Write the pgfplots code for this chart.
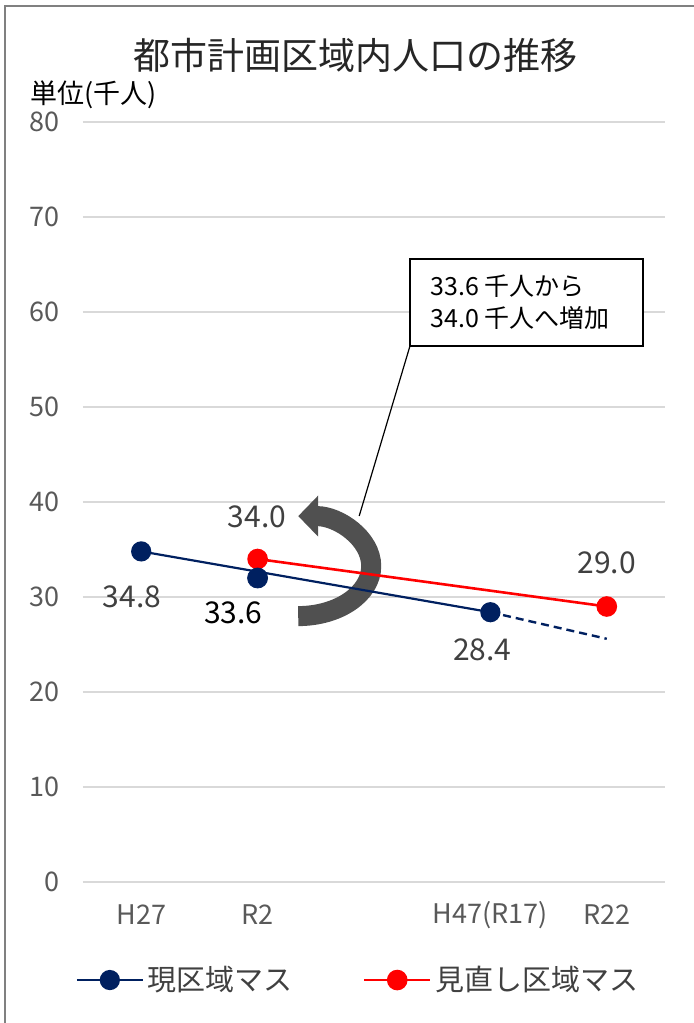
\documentclass[border=0pt]{standalone}
\usepackage{fontspec}
\setmainfont{Noto Sans CJK JP}
\usepackage{pgfplots}
\pgfplotsset{compat=1.18}
\usetikzlibrary{arrows.meta}
\definecolor{navy}{RGB}{0,32,96}
\definecolor{myred}{RGB}{255,0,0}
\definecolor{gridgray}{RGB}{217,217,217}
\definecolor{ticktext}{RGB}{89,89,89}
\definecolor{labeltext}{RGB}{64,64,64}
\definecolor{titletext}{RGB}{38,38,38}
\definecolor{arrowgray}{RGB}{80,80,80}
\definecolor{framegray}{RGB}{128,128,128}
\begin{document}
\begin{tikzpicture}
\useasboundingbox (-41.5pt,-70.5pt) rectangle (305.5pt,441pt);
\draw[framegray, line width=1.2pt] (-39pt,-70.5pt) -- (-39pt,438pt) -- (305.5pt,438pt);
\node[font=\fontsize{18.5pt}{22pt}\selectfont, text=titletext] at (136.25pt,413.5pt) {都市計画区域内人口の推移};
\node[anchor=west, font=\fontsize{13.5pt}{15pt}\selectfont, inner sep=0pt] at (-26.5pt,393.5pt) {単位(千人)};
\begin{axis}[
  at={(0pt,0pt)}, anchor=south west,
  scale only axis, width=291pt, height=380pt,
  xmin=-0.5, xmax=4.5, ymin=0, ymax=80,
  xtick={0,1,2,3,4}, xticklabels={H27,R2,{},H47(R17),R22},
  ytick={0,10,...,80},
  axis line style={draw=none},
  major tick length=0pt,
  ymajorgrids, grid style={gridgray, line width=1pt},
  tick label style={font=\fontsize{13.5pt}{16pt}\selectfont, text=ticktext},
  /pgf/number format/assume math mode=true,
  xticklabel style={anchor=center, yshift=-16.5pt},
  yticklabel style={xshift=-8pt},
  clip=false,
  legend columns=2,
  legend style={at={(0.4745,-0.129)}, anchor=center, draw=none, fill=none,
    font=\fontsize{14.5pt}{16pt}\selectfont, text=labeltext,
    /tikz/every even column/.append style={column sep=33pt}},
  legend image code/.code={
    \draw[mark repeat=2, mark phase=2, #1] plot coordinates {(0pt,0pt) (16.5pt,0pt) (33pt,0pt)};
  },
]
% curved arrow (annotation)
\draw[line width=10pt, color=arrowgray, -{Triangle[length=10pt, width=20pt]}]
  (axis cs:1.349,27.99) arc[start angle=-90, end angle=90, x radius=36.5pt, y radius=25pt];

\addplot[navy, line width=1.1pt, mark=*, mark size=4.5pt, mark options={solid, fill=navy, draw=navy}]
  coordinates {(0,34.8) (3,28.4)};
\addlegendentry{現区域マス}
\addplot[myred, line width=1.3pt, mark=*, mark size=4.5pt, mark options={solid, fill=myred, draw=myred}]
  coordinates {(1,34.0) (4,29.0)};
\addlegendentry{見直し区域マス}
\addplot[navy, line width=1.2pt, dash pattern=on 4pt off 2.5pt, forget plot]
  coordinates {(3,28.4) (4,25.6)};
\addplot[only marks, mark=*, mark size=5pt, navy, mark options={fill=navy, draw=navy}, forget plot]
  coordinates {(1,32.0)};
\addplot[only marks, mark=*, mark size=4.5pt, navy, mark options={fill=navy, draw=navy}, forget plot]
  coordinates {(3,28.4)};

% data labels
\node[font=\fontsize{15pt}{18pt}\selectfont, text=labeltext] at (axis cs:-0.079,30.0) {34.8};
\node[font=\fontsize{15pt}{18pt}\selectfont, text=labeltext] at (axis cs:0.995,38.4) {34.0};
\node[font=\fontsize{15pt}{18pt}\selectfont, text=black] at (axis cs:0.79,28.3) {33.6};
\node[font=\fontsize{15pt}{18pt}\selectfont, text=labeltext] at (axis cs:4.0,33.6) {29.0};
\node[font=\fontsize{15pt}{18pt}\selectfont, text=labeltext] at (axis cs:2.93,24.4) {28.4};

% callout
\draw[black, line width=0.6pt] (axis cs:2.309,56.42) -- (axis cs:1.873,38.53);
\node[draw=black, line width=0.6pt, fill=white, minimum width=116.5pt, minimum height=43.5pt, inner sep=0pt] at (axis cs:3.31,61.0) {};
\node[anchor=west, inner sep=0pt, font=\fontsize{12.5pt}{15pt}\selectfont] at (axis cs:2.481,62.74) {33.6 千人から};
\node[anchor=west, inner sep=0pt, font=\fontsize{12.5pt}{15pt}\selectfont] at (axis cs:2.481,59.37) {34.0 千人へ増加};
\end{axis}
\end{tikzpicture}
\end{document}
